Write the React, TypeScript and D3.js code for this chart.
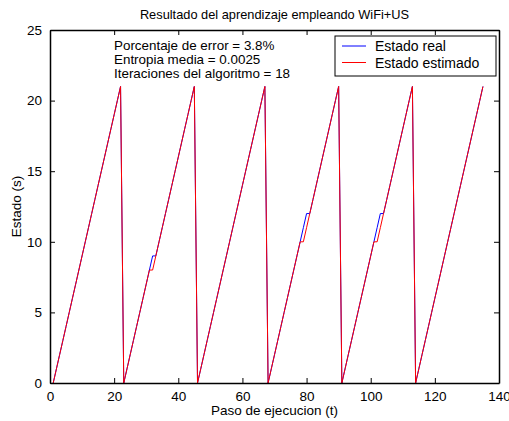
import { useEffect, useRef } from "react";
import * as d3 from "d3";

// time steps and states
const realState = [
  // cycle 1: t=1..22
  0, 1, 2, 3, 4, 5, 6, 7, 8, 9, 10, 11, 12, 13, 14, 15, 16, 17, 18, 19, 20, 21,
  // cycle 2: t=23..45
  0, 1, 2, 3, 4, 5, 6, 7, 8, 9, 9, 10, 11, 12, 13, 14, 15, 16, 17, 18, 19, 20, 21,
  // cycle 3: t=46..67
  0, 1, 2, 3, 4, 5, 6, 7, 8, 9, 10, 11, 12, 13, 14, 15, 16, 17, 18, 19, 20, 21,
  // cycle 4: t=68..90
  0, 1, 2, 3, 4, 5, 6, 7, 8, 9, 10, 11, 12, 12, 13, 14, 15, 16, 17, 18, 19, 20, 21,
  // cycle 5: t=91..113
  0, 1, 2, 3, 4, 5, 6, 7, 8, 9, 10, 11, 12, 12, 13, 14, 15, 16, 17, 18, 19, 20, 21,
  // cycle 6: t=114..135
  0, 1, 2, 3, 4, 5, 6, 7, 8, 9, 10, 11, 12, 13, 14, 15, 16, 17, 18, 19, 20, 21,
];

const estimatedState = [
  0, 1, 2, 3, 4, 5, 6, 7, 8, 9, 10, 11, 12, 13, 14, 15, 16, 17, 18, 19, 20, 21,
  0, 1, 2, 3, 4, 5, 6, 7, 8, 8, 9, 10, 11, 12, 13, 14, 15, 16, 17, 18, 19, 20, 21,
  0, 1, 2, 3, 4, 5, 6, 7, 8, 9, 10, 11, 12, 13, 14, 15, 16, 17, 18, 19, 20, 21,
  0, 1, 2, 3, 4, 5, 6, 7, 8, 9, 10, 10, 11, 12, 13, 14, 15, 16, 17, 18, 19, 20, 21,
  0, 1, 2, 3, 4, 5, 6, 7, 8, 9, 10, 10, 11, 12, 13, 14, 15, 16, 17, 18, 19, 20, 21,
  0, 1, 2, 3, 4, 5, 6, 7, 8, 9, 10, 11, 12, 13, 14, 15, 16, 17, 18, 19, 20, 21,
];

const xTicks = [0, 20, 40, 60, 80, 100, 120, 140];
const yTicks = [0, 5, 10, 15, 20, 25];

const infoLines = [
  "Porcentaje de error = 3.8%",
  "Entropia media = 0.0025",
  "Iteraciones del algoritmo = 18",
];
const legendItems = [
  { label: "Estado real", color: "#0000ff" },
  { label: "Estado estimado", color: "#ff0000" },
];

export default function App() {
  const ref = useRef<SVGSVGElement>(null);

  useEffect(() => {
    const width = 509;
    const height = 421;
    const margin = { top: 30, right: 10, bottom: 38, left: 50 };
    const innerWidth = width - margin.left - margin.right;
    const innerHeight = height - margin.top - margin.bottom;
    const font = "Arial, 'Liberation Sans', sans-serif";

    const svg = d3.select(ref.current);
    svg.selectAll("*").remove();
    svg.attr("width", width).attr("height", height);

    svg.append("rect").attr("width", width).attr("height", height).attr("fill", "#fff");

    const x = d3.scaleLinear().domain([0, 140]).range([0, innerWidth]);
    const y = d3.scaleLinear().domain([0, 25]).range([innerHeight, 0]);

    const g = svg.append("g").attr("transform", `translate(${margin.left},${margin.top})`);

    const line = d3.line<number>()
      .x((_, i) => x(i + 1))
      .y(d => y(d));

    g.append("path")
      .datum(realState)
      .attr("fill", "none")
      .attr("stroke", "#0000ff")
      .attr("stroke-width", 1)
      .attr("d", line);

    g.append("path")
      .datum(estimatedState)
      .attr("fill", "none")
      .attr("stroke", "#ff0000")
      .attr("stroke-width", 1)
      .attr("d", line);

    // axes, ticks inside (matlab style)
    const tickLen = 5;
    const axB = g.append("g").attr("transform", `translate(0,${innerHeight})`)
      .call(d3.axisBottom(x).tickValues(xTicks).tickSizeInner(-tickLen).tickSizeOuter(0).tickPadding(8));
    const axT = g.append("g")
      .call(d3.axisTop(x).tickValues(xTicks).tickSizeInner(-tickLen).tickSizeOuter(0).tickFormat(() => ""));
    const axL = g.append("g")
      .call(d3.axisLeft(y).tickValues(yTicks).tickSizeInner(-tickLen).tickSizeOuter(0).tickPadding(8));
    const axR = g.append("g").attr("transform", `translate(${innerWidth},0)`)
      .call(d3.axisRight(y).tickValues(yTicks).tickSizeInner(-tickLen).tickSizeOuter(0).tickFormat(() => ""));

    [axB, axT, axL, axR].forEach(a => {
      a.select(".domain").attr("stroke", "#000").attr("stroke-width", 1.5);
      a.selectAll(".tick line").attr("stroke", "#000").attr("stroke-width", 1);
      a.selectAll("text").attr("fill", "#000").style("font-size", "13.5px").style("font-family", font);
    });

    // title and labels
    svg.append("text")
      .attr("x", margin.left + innerWidth / 2)
      .attr("y", 19)
      .attr("text-anchor", "middle")
      .style("font-size", "12.8px")
      .style("font-family", font)
      .text("Resultado del aprendizaje empleando WiFi+US");

    svg.append("text")
      .attr("x", margin.left + innerWidth / 2)
      .attr("y", 415)
      .attr("text-anchor", "middle")
      .style("font-size", "13.5px")
      .style("font-family", font)
      .text("Paso de ejecucion (t)");

    svg.append("text")
      .attr("transform", `translate(21,${margin.top + innerHeight / 2}) rotate(-90)`)
      .attr("text-anchor", "middle")
      .style("font-size", "13.5px")
      .style("font-family", font)
      .text("Estado (s)");

    // info text
    infoLines.forEach((t, i) => {
      svg.append("text")
        .attr("x", 114)
        .attr("y", 50 + i * 14)
        .style("font-size", "13.4px")
        .style("font-family", font)
        .text(t);
    });

    // legend
    const lg = svg.append("g").attr("transform", "translate(335,36)");
    lg.append("rect")
      .attr("width", 161)
      .attr("height", 40)
      .attr("fill", "#fff")
      .attr("stroke", "#000")
      .attr("stroke-width", 1);
    legendItems.forEach((d, i) => {
      const row = lg.append("g").attr("transform", `translate(0,${10 + i * 16.5})`);
      row.append("line")
        .attr("x1", 7).attr("x2", 31)
        .attr("stroke", d.color).attr("stroke-width", 1);
      row.append("text")
        .attr("x", 40)
        .attr("y", 5)
        .style("font-size", "14px")
        .style("font-family", font)
        .text(d.label);
    });
  }, []);

  return <svg ref={ref} style={{ position: "absolute", left: 0, top: 0 }}></svg>;
}
